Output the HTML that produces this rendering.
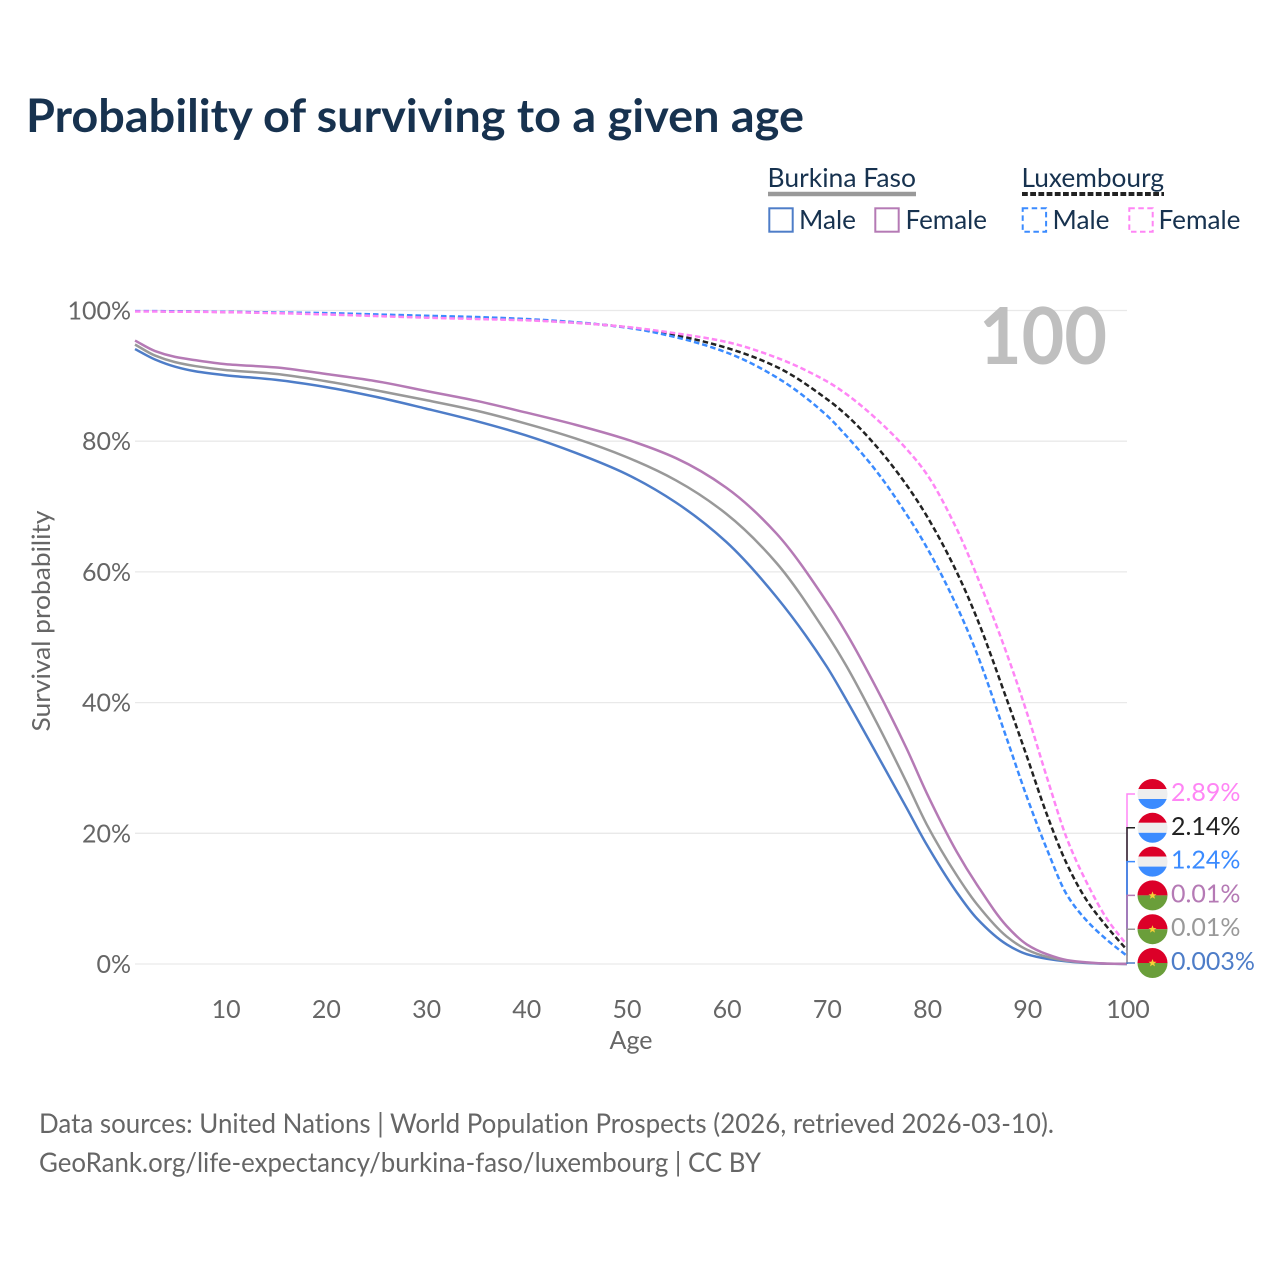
<!DOCTYPE html>
<html lang="en">
<head>
<meta charset="utf-8">
<title>Probability of surviving to a given age</title>
<style>
html,body{margin:0;padding:0;background:#fff;}
svg{display:block;}
text{font-family:"Lato","Carlito","Liberation Sans",sans-serif;font-variant-ligatures:none;}
</style>
</head>
<body>
<svg id="chart" xmlns="http://www.w3.org/2000/svg" width="1280" height="1280" viewBox="0 0 1280 1280">
  <rect x="0" y="0" width="1280" height="1280" fill="#ffffff"/>
  <defs>
    <clipPath id="flag-clip"><circle cx="0" cy="0" r="15"/></clipPath>
  </defs>
  <text x="26" y="132" font-size="46" font-weight="700" fill="#17324f" textLength="778" lengthAdjust="spacingAndGlyphs">Probability of surviving to a given age</text>

  <g>
    <text x="767.5" y="187" font-size="26" fill="#17324f" textLength="148.5" lengthAdjust="spacingAndGlyphs">Burkina Faso</text>
    <line x1="768" x2="916" y1="194" y2="194" stroke="#999999" stroke-width="4.5"/>
    <rect x="769.3" y="208.3" width="23.4" height="23.4" fill="none" stroke="#4e7dc8" stroke-width="2"/>
    <text x="799" y="229" font-size="26" fill="#17324f" textLength="57" lengthAdjust="spacingAndGlyphs">Male</text>
    <rect x="875.3" y="208.3" width="23.4" height="23.4" fill="none" stroke="#b57ab5" stroke-width="2"/>
    <text x="905.5" y="229" font-size="26" fill="#17324f" textLength="81.5" lengthAdjust="spacingAndGlyphs">Female</text>

    <text x="1021.5" y="187" font-size="26" fill="#17324f" textLength="142.5" lengthAdjust="spacingAndGlyphs">Luxembourg</text>
    <line x1="1022" x2="1164" y1="194" y2="194" stroke="#222222" stroke-width="4" stroke-dasharray="5.8,2.4"/>
    <rect x="1022.7" y="208.3" width="23.4" height="23.4" fill="none" stroke="#3b8bff" stroke-width="2" stroke-dasharray="5.5,3.5"/>
    <text x="1052.5" y="229" font-size="26" fill="#17324f" textLength="57" lengthAdjust="spacingAndGlyphs">Male</text>
    <rect x="1129.3" y="208.3" width="23.4" height="23.4" fill="none" stroke="#ff85f5" stroke-width="2" stroke-dasharray="5.5,3.5"/>
    <text x="1158.5" y="229" font-size="26" fill="#17324f" textLength="82" lengthAdjust="spacingAndGlyphs">Female</text>
  </g>

  <g id="grid"></g>
  <text x="979" y="364" font-size="79" font-weight="700" fill="#bfbfbf" textLength="128" lengthAdjust="spacingAndGlyphs">100</text>
  <g id="y-axis"></g>
  <g id="x-axis"></g>
  <text transform="translate(50,621) rotate(-90)" font-size="25" fill="#666666" text-anchor="middle" textLength="221" lengthAdjust="spacingAndGlyphs">Survival probability</text>
  <text x="631" y="1049" font-size="25" fill="#666666" text-anchor="middle" textLength="43" lengthAdjust="spacingAndGlyphs">Age</text>
  <g id="series"></g>
  <g id="connectors"></g>
  <g id="end-labels"></g>

  <text x="39" y="1133" font-size="27" fill="#666666" textLength="1015" lengthAdjust="spacingAndGlyphs">Data sources: United Nations | World Population Prospects (2026, retrieved 2026-03-10).</text>
  <text x="39" y="1172" font-size="27" fill="#666666" textLength="722" lengthAdjust="spacingAndGlyphs">GeoRank.org/life-expectancy/burkina-faso/luxembourg | CC BY</text>
</svg>
<script>
const ages = [1,3,5,7,10,15,20,25,30,35,40,45,50,55,60,65,70,72,75,78,80,83,85,88,90,92,94,96,98,100];
const burkinaMale = [94.1,92.5,91.4,90.7,90.1,89.4,88.3,86.8,85.0,83.1,80.9,78.2,75.0,70.6,64.6,56.2,45.6,40.4,32.2,23.9,18.3,11.0,7.0,3.0,1.5,0.8,0.4,0.15,0.04,0.003];
const burkinaAll = [94.8,93.1,92.1,91.5,90.9,90.3,89.2,87.8,86.3,84.7,82.7,80.4,77.6,74.0,68.9,61.4,50.6,45.6,37.0,27.8,21.4,13.6,9.2,4.2,2.2,1.1,0.5,0.2,0.05,0.01];
const burkinaFemale = [95.4,93.8,92.9,92.4,91.8,91.3,90.3,89.2,87.7,86.2,84.4,82.5,80.3,77.4,72.9,65.9,55.5,50.6,42.2,33.0,26.2,17.2,12.2,5.8,3.0,1.5,0.6,0.25,0.06,0.01];
const luxMale = [99.9,99.9,99.88,99.85,99.8,99.7,99.6,99.4,99.2,99.0,98.7,98.2,97.4,95.9,93.6,89.8,84.0,80.8,75.4,68.8,63.8,54.8,47.6,34.5,25.6,17.6,10.6,6.6,3.7,1.24];
const luxAll = [99.88,99.88,99.84,99.82,99.78,99.65,99.5,99.28,99.05,98.85,98.6,98.15,97.45,96.2,94.3,91.4,86.5,84.0,79.2,73.3,68.6,60.0,53.0,40.5,31.8,22.9,15.3,9.7,5.7,2.14];
const luxFemale = [99.85,99.85,99.8,99.8,99.75,99.6,99.4,99.15,98.9,98.7,98.5,98.1,97.5,96.5,95.2,92.8,89.2,87.2,83.4,78.8,75.0,66.6,59.5,47.5,38.5,28.6,19.2,12.4,6.9,2.89];
const yTickValues = [0,20,40,60,80,100];
const xTickValues = [10,20,30,40,50,60,70,80,90,100];
const endLabelTexts = ["0.003%","0.01%","0.01%","1.24%","2.14%","2.89%"];

const NS = "http://www.w3.org/2000/svg";
const xScale = a => 135 + (a - 1) * 10.02;
const yScale = v => 964 - v * 6.535;

function make(tag, attrs, parent, text) {
  const el = document.createElementNS(NS, tag);
  for (const k in attrs) el.setAttribute(k, attrs[k]);
  if (text !== undefined) el.textContent = text;
  parent.appendChild(el);
  return el;
}

function smoothPath(xs, ys) {
  const n = xs.length, d = [], m = [];
  for (let i = 0; i < n - 1; i++) d.push((ys[i + 1] - ys[i]) / (xs[i + 1] - xs[i]));
  m.push(d[0]);
  for (let i = 1; i < n - 1; i++) {
    if (d[i - 1] * d[i] <= 0) m.push(0);
    else {
      const w1 = 2 * (xs[i + 1] - xs[i]) + (xs[i] - xs[i - 1]);
      const w2 = (xs[i + 1] - xs[i]) + 2 * (xs[i] - xs[i - 1]);
      m.push((w1 + w2) / (w1 / d[i - 1] + w2 / d[i]));
    }
  }
  m.push(d[n - 2]);
  let p = "M" + xs[0].toFixed(2) + "," + ys[0].toFixed(2);
  for (let i = 0; i < n - 1; i++) {
    const h = (xs[i + 1] - xs[i]) / 3;
    p += "C" + (xs[i] + h).toFixed(2) + "," + (ys[i] + m[i] * h).toFixed(2) + " " +
      (xs[i + 1] - h).toFixed(2) + "," + (ys[i + 1] - m[i + 1] * h).toFixed(2) + " " +
      xs[i + 1].toFixed(2) + "," + ys[i + 1].toFixed(2);
  }
  return p;
}

const gridG = document.getElementById("grid");
const yAxisG = document.getElementById("y-axis");
yTickValues.forEach(v => {
  const line = make("line", {x1: 135, x2: 1127, y1: yScale(v), y2: yScale(v), stroke: "#e9e9e9", "stroke-width": 1.3}, gridG);
  
  
  const label = make("text", {x: 131, y: yScale(v) + 9, "font-size": 25, fill: "#666666", "text-anchor": "end"}, yAxisG, v + "%");
  
  
});

const xAxisG = document.getElementById("x-axis");
xTickValues.forEach(v => {
  const label = make("text", {x: xScale(v) + 1, y: 1018, "font-size": 25, fill: "#666666", "text-anchor": "middle"}, xAxisG, String(v));
  
  
});

const seriesG = document.getElementById("series");
const xsPx = ages.map(xScale);
const luxDash = "5.5,3";
const lineWidth = 2.5;

const lineBurkinaMale = make("path", {d: smoothPath(xsPx, burkinaMale.map(yScale)), fill: "none", stroke: "#4e7dc8", "stroke-width": lineWidth}, seriesG);


const lineBurkinaAll = make("path", {d: smoothPath(xsPx, burkinaAll.map(yScale)), fill: "none", stroke: "#999999", "stroke-width": lineWidth}, seriesG);


const lineBurkinaFemale = make("path", {d: smoothPath(xsPx, burkinaFemale.map(yScale)), fill: "none", stroke: "#b57ab5", "stroke-width": lineWidth}, seriesG);


const lineLuxAll = make("path", {d: smoothPath(xsPx, luxAll.map(yScale)), fill: "none", stroke: "#222222", "stroke-width": lineWidth, "stroke-dasharray": luxDash}, seriesG);


const lineLuxMale = make("path", {d: smoothPath(xsPx, luxMale.map(yScale)), fill: "none", stroke: "#3b8bff", "stroke-width": lineWidth, "stroke-dasharray": luxDash}, seriesG);


const lineLuxFemale = make("path", {d: smoothPath(xsPx, luxFemale.map(yScale)), fill: "none", stroke: "#ff85f5", "stroke-width": lineWidth, "stroke-dasharray": luxDash}, seriesG);



/* End-of-line flags, labels and elbow connectors: index 0 is the lowest slot. */
const endSeries = [burkinaMale, burkinaAll, burkinaFemale, luxMale, luxAll, luxFemale];
const endColors = ["#4e7dc8", "#999999", "#b57ab5", "#3b8bff", "#222222", "#ff85f5"];
const endCountries = ["bf", "bf", "bf", "lu", "lu", "lu"];
const connG = document.getElementById("connectors");
const endG = document.getElementById("end-labels");
const slotY = i => 963 - i * 33.8;

for (let i = 5; i >= 0; i--) {
  const values = endSeries[i];
  const yEnd = yScale(values[values.length - 1]);
  const conn = make("path", {d: "M1127," + yEnd.toFixed(1) + "V" + slotY(i).toFixed(1) + "H1135", fill: "none", stroke: endColors[i], "stroke-width": 1.5}, connG);
  
  
}

for (let i = 0; i < 6; i++) {
  const cy = slotY(i);
  const flag = make("g", {transform: "translate(1152.5," + cy.toFixed(1) + ")", "clip-path": "url(#flag-clip)"}, endG);
  
  
  if (endCountries[i] === "lu") {
    make("rect", {x: -16, y: -16, width: 32, height: 11, fill: "#dc0028"}, flag);
    make("rect", {x: -16, y: -5, width: 32, height: 10, fill: "#eeeeee"}, flag);
    make("rect", {x: -16, y: 5, width: 32, height: 11, fill: "#3b8bff"}, flag);
  } else {
    make("rect", {x: -16, y: -16, width: 32, height: 16, fill: "#dc0028"}, flag);
    make("rect", {x: -16, y: 0, width: 32, height: 16, fill: "#6a9e3a"}, flag);
    make("polygon", {points: "0,-4 1.1,-1.2 4,-1.2 1.7,0.6 2.5,3.4 0,1.8 -2.5,3.4 -1.7,0.6 -4,-1.2 -1.1,-1.2", fill: "#f7d038"}, flag);
  }
  const label = make("text", {x: 1171, y: cy + 7, "font-size": 25, fill: endColors[i]}, endG, endLabelTexts[i]);
  
  
}
</script>
</body>
</html>
